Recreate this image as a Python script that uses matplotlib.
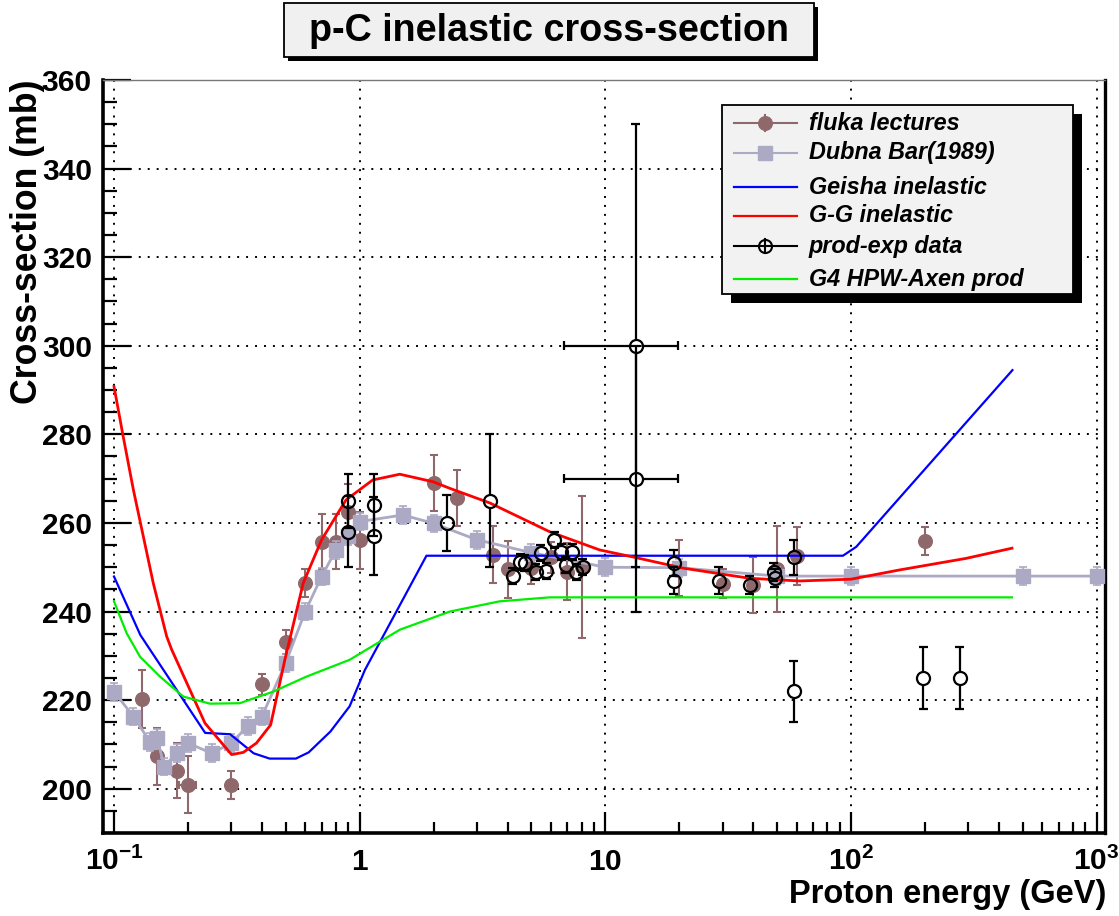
import numpy as np
import matplotlib
matplotlib.use("Agg")
import matplotlib.pyplot as plt
from matplotlib import font_manager
from matplotlib.patches import Rectangle
from matplotlib.lines import Line2D
from matplotlib.collections import LineCollection
from matplotlib.ticker import FixedLocator, MultipleLocator, NullFormatter

# ---------------- data: proton energy (GeV) vs cross-section (mb) ----------------
fluka_e = [0.13, 0.15, 0.18, 0.20, 0.30, 0.40, 0.50, 0.60, 0.70, 0.80, 0.90, 1.0,
           2.0, 2.5, 3.5, 4.0, 5.0, 6.0, 7.0, 8.0, 20.0, 30.0, 40.0, 50.0, 60.0, 200.0]
fluka_xs = [220.2, 207.3, 204.1, 200.9, 200.9, 223.6, 233.2, 246.4, 255.8, 255.8, 262.5, 256.1,
            269.0, 265.6, 252.8, 249.5, 249.8, 252.3, 249.0, 250.0, 249.8, 246.3, 246.0, 249.6, 252.6, 255.9]
fluka_err = [6.5, 6.4, 6.3, 6.4, 3.2, 2.4, 2.7, 3.2, 6.3, 6.3, 6.4, 6.4,
             6.4, 6.3, 6.4, 6.4, 3.5, 3.5, 6.4, 16.0, 6.4, 3.2, 6.4, 9.6, 6.5, 3.2]
fluka_eerr = [0, 0, 0, 0.016, 0, 0, 0, 0, 0, 0, 0, 0,
              0, 0, 0, 0, 0, 0, 0, 0, 0, 0, 0, 0, 0, 0]

dubna_e = [0.1, 0.12, 0.14, 0.15, 0.16, 0.18, 0.2, 0.25, 0.3, 0.35, 0.4, 0.5, 0.6, 0.7,
           0.8, 0.9, 1.0, 1.5, 2.0, 3.0, 5.0, 10.0, 20.0, 50.0, 100.0, 500.0, 1000.0]
dubna_xs = [221.9, 216.3, 210.6, 211.4, 205.0, 208.0, 210.3, 208.0, 210.3, 214.1, 216.3, 228.4, 240.0, 247.9,
            253.9, 257.0, 260.3, 261.8, 259.9, 256.2, 253.3, 250.0, 249.9, 248.0, 248.0, 248.0, 248.0]
dubna_err = 2.0

geisha_e = [0.1, 0.128, 0.235, 0.297, 0.37, 0.43, 0.55, 0.62, 0.76, 0.91, 1.05, 1.87, 92.7, 105.0, 454.0]
geisha_xs = [247.9, 234.7, 212.6, 212.3, 208.0, 206.8, 206.8, 208.2, 212.9, 218.6, 226.8, 252.6, 252.6, 254.6, 294.5]

gg_e = [0.1, 0.109, 0.12, 0.1445, 0.1638, 0.1717, 0.2346, 0.301, 0.336, 0.38,
        0.434, 0.496, 0.589, 0.70, 0.88, 1.13, 1.457, 1.99, 2.33, 3.39,
        5.94, 9.49, 13.0, 20.7, 38.7, 61.8, 100.0, 158.0, 294.0, 452.0]
gg_xs = [290.8, 279.5, 267.4, 246.4, 234.4, 231.4, 214.8, 207.7, 208.2, 210.3,
         214.4, 229.1, 246.4, 256.2, 265.2, 269.7, 271.0, 269.3, 267.8, 264.5,
         258.0, 253.9, 252.3, 249.8, 247.5, 246.9, 247.3, 249.4, 252.0, 254.3]

g4_e = [0.1, 0.1126, 0.1276, 0.154, 0.1914, 0.2457, 0.325, 0.444, 0.607, 0.91, 1.457, 2.33, 3.71, 5.94, 452.0]
g4_xs = [242.3, 235.1, 229.8, 225.3, 220.8, 219.2, 219.3, 221.9, 225.3, 229.1, 235.9, 240.0, 242.3, 243.2, 243.2]

prod_e = [0.9, 0.9, 1.14, 1.14, 2.26, 3.39,
          4.2, 4.5, 4.7, 5.2, 5.45, 5.75, 6.2, 6.6, 6.9, 7.35, 7.6, 8.1,
          13.3, 13.3, 19.0, 19.0, 29.0, 38.7, 48.5, 49.0, 58.6, 58.6, 197.0, 277.0]
prod_xs = [265.0, 258.0, 264.1, 257.1, 260.0, 265.0,
           248.0, 251.1, 251.0, 249.0, 253.2, 249.2, 256.1, 253.4, 250.5, 253.5, 249.0, 250.1,
           300.0, 270.0, 251.0, 247.0, 247.0, 246.0, 249.0, 247.5, 252.2, 222.0, 225.0, 225.0]
prod_err = [6.1, 8.0, 7.0, 8.8, 6.3, 15.0,
            1.8, 1.8, 1.8, 1.8, 1.8, 1.8, 1.8, 1.8, 1.8, 1.8, 1.8, 1.8,
            50.0, 30.0, 3.0, 3.0, 3.0, 2.0, 2.0, 2.0, 4.0, 6.9, 7.0, 7.0]
prod_eerr = [0, 0, 0, 0, 0, 0,
             0, 0, 0, 0, 0, 0, 0, 0, 0, 0, 0, 0,
             6.5, 6.5, 0, 0, 0, 0, 0, 0, 0, 0, 0, 0]

x_ticks = [0.1, 1, 10, 100, 1000]
x_tick_labels = [r"$10^{-1}$", r"$1$", r"$10$", r"$10^{2}$", r"$10^{3}$"]
y_ticks = [200, 220, 240, 260, 280, 300, 320, 340, 360]

legend_labels = ["fluka lectures", "Dubna Bar(1989)", "Geisha inelastic",
                 "G-G inelastic", "prod-exp data", "G4 HPW-Axen prod"]

# ---------------- style ----------------
C_FLUKA = "#8f686c"
C_DUBNA = "#aba9c4"
C_GEISHA = "#0000ff"
C_GG = "#ff0000"
C_PROD = "#000000"
C_G4 = "#00ee00"

names = {f.name for f in font_manager.fontManager.ttflist}
NARROW_OK = "Liberation Sans Narrow" in names
AXFONT = "Liberation Sans Narrow" if NARROW_OK else "Liberation Sans"
SANS = "Liberation Sans"
if NARROW_OK:
    TICK_FS, YLAB_FS, XLAB_FS = 25, 31, 28
else:
    TICK_FS, YLAB_FS, XLAB_FS = 21.5, 25.7, 23.5

plt.rcParams["mathtext.fontset"] = "custom"
plt.rcParams["mathtext.rm"] = AXFONT + ":bold"
plt.rcParams["mathtext.bf"] = AXFONT + ":bold"
plt.rcParams["mathtext.default"] = "rm"

W, H, DPI = 1119, 916, 100
fig = plt.figure(figsize=(W / DPI, H / DPI), dpi=DPI)
fig.patch.set_facecolor("white")


def fx(px):
    return px / W


def fy(py):
    return 1.0 - py / H


# frame in pixel coordinates
L, R, T, B = 103, 1105, 80, 833
ax = fig.add_axes([fx(L), fy(B), fx(R) - fx(L), fy(T) - fy(B)])
ax.set_xscale("log")
ax.set_xlim(0.0902, 1081)
ax.set_ylim(190, 360)
ax.set_autoscale_on(False)

# grid
ax.set_axisbelow(True)
ax.grid(True, which="major", color="black", linestyle=(0, (1, 3.6)), linewidth=1.4)

# ticks
ax.xaxis.set_major_locator(FixedLocator(x_ticks))
minor_x = [m * 10.0 ** d for d in range(-1, 3) for m in range(2, 10)]
ax.xaxis.set_minor_locator(FixedLocator(minor_x))
ax.xaxis.set_minor_formatter(NullFormatter())
ax.set_xticks(x_ticks, x_tick_labels, fontsize=TICK_FS)
ax.set_yticks(y_ticks, [str(v) for v in y_ticks], fontfamily=AXFONT,
              fontweight="bold", fontsize=TICK_FS)
ax.yaxis.set_minor_locator(MultipleLocator(5))
ax.tick_params(axis="y", which="major", direction="in", length=20, width=1.6,
               left=True, right=False, pad=8)
ax.tick_params(axis="y", which="minor", direction="in", length=10, width=1.6,
               left=True, right=False)
ax.tick_params(axis="x", which="major", direction="in", length=15, width=1.6,
               bottom=True, top=False, pad=10)
ax.tick_params(axis="x", which="minor", direction="in", length=8, width=1.6,
               bottom=True, top=False)

for side in ("left", "bottom"):
    ax.spines[side].set_linewidth(2.6)
    ax.spines[side].set_color("black")
ax.spines["right"].set_linewidth(2.4)
ax.spines["right"].set_color("black")
ax.spines["top"].set_linewidth(1.0)
ax.spines["top"].set_color("#777777")

# ---------------- series ----------------
ax.errorbar(fluka_e, fluka_xs, yerr=fluka_err, xerr=fluka_eerr, fmt="o", ms=9.8,
            color=C_FLUKA, ecolor=C_FLUKA, elinewidth=1.5, capsize=2.7, capthick=1.5,
            zorder=3)
ax.errorbar(dubna_e, dubna_xs, yerr=dubna_err, fmt="s-", ms=10, lw=2.0,
            color=C_DUBNA, ecolor=C_DUBNA, elinewidth=1.2, capsize=2.7, capthick=1.2,
            zorder=4)
ax.plot(geisha_e, geisha_xs, color=C_GEISHA, lw=1.6, zorder=5)
ax.plot(gg_e, gg_xs, color=C_GG, lw=2.0, zorder=6)


def gapped_errorbars(axis, xs, ys, yerr, xerr, gap_px, cap_px, color, lw, zorder):
    """Error bars that stop at the rim of an open marker, with end caps."""
    to_disp = axis.transData
    to_data = to_disp.inverted()
    segs = []
    for x, y, ey, ex in zip(xs, ys, yerr, xerr):
        cx, cy = to_disp.transform((x, y))
        pieces = []
        if ey > 0:
            top = to_disp.transform((x, y + ey))[1]
            bot = to_disp.transform((x, y - ey))[1]
            if top - cy > gap_px:
                pieces.append([(cx, cy + gap_px), (cx, top)])
            if cy - bot > gap_px:
                pieces.append([(cx, cy - gap_px), (cx, bot)])
            pieces.append([(cx - cap_px, top), (cx + cap_px, top)])
            pieces.append([(cx - cap_px, bot), (cx + cap_px, bot)])
        if ex > 0:
            right = to_disp.transform((x + ex, y))[0]
            left = to_disp.transform((x - ex, y))[0]
            if right - cx > gap_px:
                pieces.append([(cx + gap_px, cy), (right, cy)])
            if cx - left > gap_px:
                pieces.append([(cx - gap_px, cy), (left, cy)])
            pieces.append([(right, cy - cap_px), (right, cy + cap_px)])
            pieces.append([(left, cy - cap_px), (left, cy + cap_px)])
        for p in pieces:
            segs.append(to_data.transform(np.array(p)))
    axis.add_collection(LineCollection(segs, colors=color, linewidths=lw,
                                       zorder=zorder), autolim=False)


gapped_errorbars(ax, prod_e, prod_xs, prod_err, prod_eerr, gap_px=6.8, cap_px=4.5,
                 color=C_PROD, lw=1.6, zorder=7)
ax.plot(prod_e, prod_xs, "o", ms=9.4, mfc="none", mec=C_PROD, mew=1.6, zorder=7)
ax.plot(g4_e, g4_xs, color=C_G4, lw=1.6, zorder=8)

# ---------------- axis titles ----------------
fig.text(fx(28), fy(80), "Cross-section (mb)", rotation=90, ha="center", va="top",
         fontfamily=AXFONT, fontweight="bold", fontsize=YLAB_FS)
fig.text(fx(1106), fy(895), "Proton energy (GeV)", ha="right", va="center",
         fontfamily=AXFONT, fontweight="bold", fontsize=XLAB_FS)

# ---------------- title box ----------------
tx0, ty0, tx1, ty1 = 284, 3, 814, 57
fig.add_artist(Rectangle((fx(tx0 + 4), fy(ty1 + 4)), fx(tx1) - fx(tx0), fy(ty0) - fy(ty1),
                         transform=fig.transFigure, facecolor="black", edgecolor="black", lw=0))
fig.add_artist(Rectangle((fx(tx0), fy(ty1)), fx(tx1) - fx(tx0), fy(ty0) - fy(ty1),
                         transform=fig.transFigure, facecolor="#f0f0f0", edgecolor="black", lw=1.3))
fig.text(fx((tx0 + tx1) / 2), fy(31), "p-C inelastic cross-section", ha="center", va="center",
         fontfamily=SANS, fontweight="bold", fontsize=27.2)

# ---------------- legend ----------------
lx0, ly0, lx1, ly1 = 722, 105, 1073, 294
fig.add_artist(Rectangle((fx(lx0 + 9), fy(ly1 + 9)), fx(lx1) - fx(lx0), fy(ly0) - fy(ly1),
                         transform=fig.transFigure, facecolor="black", edgecolor="black", lw=0,
                         zorder=20))
fig.add_artist(Rectangle((fx(lx0), fy(ly1)), fx(lx1) - fx(lx0), fy(ly0) - fy(ly1),
                         transform=fig.transFigure, facecolor="#f2f2f2", edgecolor="black", lw=1.3,
                         zorder=21))
row_y = [123, 153, 187, 216, 246, 279]
sx0, sx1, smid = 734, 797, 765
tf = fig.transFigure


def seg(x0, y0, x1, y1, **kw):
    fig.add_artist(Line2D([fx(x0), fx(x1)], [fy(y0), fy(y1)], transform=tf, zorder=22, **kw))


# fluka
y = row_y[0]
seg(sx0, y, sx1, y, color=C_FLUKA, lw=1.5)
seg(smid, y - 8, smid, y + 8, color=C_FLUKA, lw=1.5)
fig.add_artist(Line2D([fx(smid)], [fy(y)], transform=tf, marker="o", ms=9.8,
                      color=C_FLUKA, lw=0, zorder=23))
# dubna
y = row_y[1]
seg(sx0, y, sx1, y, color=C_DUBNA, lw=1.5)
fig.add_artist(Line2D([fx(smid)], [fy(y)], transform=tf, marker="s", ms=10,
                      color=C_DUBNA, lw=0, zorder=23))
# geisha, g-g
seg(sx0, row_y[2], sx1, row_y[2], color=C_GEISHA, lw=1.6)
seg(sx0, row_y[3], sx1, row_y[3], color=C_GG, lw=1.6)
# prod-exp
y = row_y[4]
seg(sx0, y, sx1, y, color=C_PROD, lw=1.5)
seg(smid, y - 7, smid, y + 7, color=C_PROD, lw=1.5)
fig.add_artist(Line2D([fx(smid)], [fy(y)], transform=tf, marker="o", ms=9.4,
                      mfc="none", mec=C_PROD, mew=1.5, lw=0, zorder=23))
# g4
seg(sx0, row_y[5], sx1, row_y[5], color=C_G4, lw=1.6)

for yy, lab in zip(row_y, legend_labels):
    fig.text(fx(809), fy(yy), lab, ha="left", va="center", fontfamily=SANS,
             fontweight="bold", fontstyle="italic", fontsize=16.8, zorder=24)

fig.savefig("out.png", dpi=DPI, facecolor="white")
